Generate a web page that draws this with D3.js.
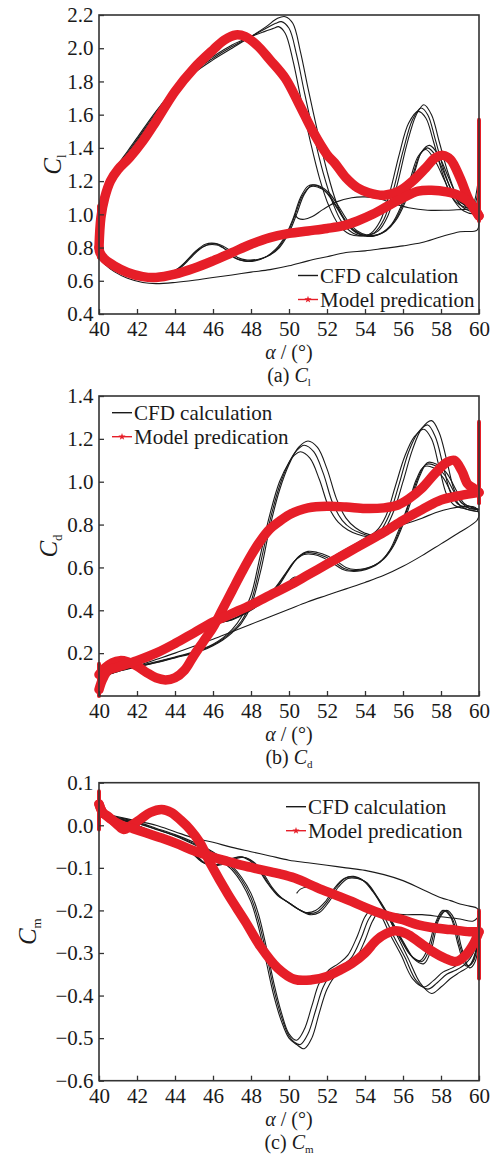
<!DOCTYPE html>
<html>
<head>
<meta charset="utf-8">
<script src="https://cdn.jsdelivr.net/npm/d3@7"></script>
<style>
  body { margin: 0; background: #fff; }
</style>
</head>
<body>
<div id="chart"></div>
<script>
// ---- data: [alpha (deg), coefficient] ----
var alphaTicks = [40, 42, 44, 46, 48, 50, 52, 54, 56, 58, 60];
var clTicks = [0.4, 0.6, 0.8, 1.0, 1.2, 1.4, 1.6, 1.8, 2.0, 2.2];
var cdTicks = [0.2, 0.4, 0.6, 0.8, 1.0, 1.2, 1.4];
var cmTicks = [0.1, 0.0, -0.1, -0.2, -0.3, -0.4, -0.5, -0.6];

// (a) lift coefficient, CFD cycles
var clUp1 = [[40,0.74],[40.15,0.93],[40.4,1.1],[40.8,1.24],[41.5,1.36],[42,1.44],[43,1.6],[44,1.74],[45,1.85],[46,1.93],[47,2.0],[48,2.07],[48.8,2.13],[49.4,2.18],[49.8,2.19],[50.2,2.15],[50.6,1.98],[51,1.76],[51.5,1.5],[52,1.26],[52.5,1.07],[53,0.95],[53.6,0.885],[54.2,0.875],[54.7,0.9],[55.2,0.99],[55.7,1.18],[56.2,1.42],[56.7,1.6],[57.1,1.66],[57.5,1.6],[57.9,1.44],[58.4,1.24],[58.9,1.1],[59.4,1.05],[59.8,1.05],[60,1.15]];
var clUp2 = [[40,0.75],[40.15,0.94],[40.4,1.11],[40.8,1.25],[41.5,1.37],[42,1.45],[43,1.61],[44,1.75],[45,1.86],[46,1.94],[47,2.01],[48,2.07],[48.8,2.12],[49.3,2.15],[49.6,2.16],[50,2.12],[50.4,1.96],[50.8,1.74],[51.3,1.48],[51.8,1.25],[52.3,1.07],[52.8,0.95],[53.4,0.885],[54,0.87],[54.5,0.89],[55,0.97],[55.5,1.15],[56,1.38],[56.5,1.57],[56.95,1.64],[57.3,1.6],[57.7,1.45],[58.2,1.25],[58.7,1.11],[59.2,1.06],[59.7,1.05],[60,1.2]];
var clUp3 = [[40,0.76],[40.15,0.95],[40.4,1.12],[40.8,1.26],[41.5,1.38],[42,1.46],[43,1.62],[44,1.76],[45,1.87],[46,1.95],[47,2.02],[48,2.07],[48.7,2.1],[49.2,2.12],[49.45,2.13],[49.8,2.09],[50.2,1.93],[50.6,1.71],[51.1,1.45],[51.6,1.22],[52.1,1.05],[52.6,0.94],[53.2,0.88],[53.8,0.87],[54.3,0.885],[54.8,0.96],[55.3,1.13],[55.8,1.36],[56.3,1.55],[56.8,1.62],[57.2,1.58],[57.6,1.44],[58.1,1.24],[58.6,1.1],[59.1,1.05],[59.6,1.04],[60,1.25]];
var clDown1 = [[60,1.15],[59.8,1.03],[59.4,1.04],[58.9,1.1],[58.4,1.22],[57.9,1.35],[57.4,1.415],[57.0,1.38],[56.6,1.25],[56.1,1.07],[55.6,0.96],[55.1,0.9],[54.6,0.875],[54.1,0.875],[53.6,0.9],[53.1,0.96],[52.6,1.05],[52.1,1.13],[51.6,1.17],[51.2,1.175],[50.8,1.12],[50.4,1.0],[50.0,0.89],[49.5,0.8],[49.0,0.755],[48.4,0.73],[47.8,0.725],[47.3,0.74],[46.8,0.79],[46.3,0.82],[45.8,0.82],[45.3,0.79],[44.8,0.735],[44.3,0.68],[43.7,0.645],[43,0.635],[42.3,0.64],[41.5,0.655],[40.8,0.68],[40.3,0.71],[40,0.74]];
var clDown2 = [[60,1.2],[59.8,1.02],[59.3,1.03],[58.8,1.09],[58.3,1.21],[57.8,1.34],[57.3,1.4],[56.9,1.36],[56.5,1.23],[56.0,1.06],[55.5,0.95],[55.0,0.895],[54.5,0.87],[54.0,0.87],[53.5,0.9],[53.0,0.96],[52.5,1.05],[52.0,1.13],[51.5,1.165],[51.1,1.165],[50.7,1.11],[50.3,0.99],[49.9,0.88],[49.4,0.795],[48.9,0.75],[48.3,0.725],[47.7,0.72],[47.2,0.735],[46.7,0.785],[46.2,0.815],[45.7,0.815],[45.2,0.785],[44.7,0.73],[44.2,0.675],[43.6,0.64],[43,0.63],[42.3,0.635],[41.5,0.65],[40.8,0.675],[40.3,0.705],[40,0.74]];
var clDown3 = [[60,1.25],[59.8,1.01],[59.2,1.02],[58.7,1.08],[58.2,1.2],[57.7,1.32],[57.2,1.39],[56.8,1.35],[56.4,1.22],[55.9,1.05],[55.4,0.94],[54.9,0.89],[54.4,0.87],[53.9,0.875],[53.4,0.905],[52.9,0.97],[52.4,1.06],[51.9,1.14],[51.4,1.175],[51.0,1.17],[50.6,1.1],[50.2,0.97],[49.8,0.87],[49.3,0.79],[48.8,0.745],[48.2,0.72],[47.6,0.72],[47.1,0.74],[46.6,0.795],[46.1,0.825],[45.6,0.82],[45.1,0.78],[44.6,0.72],[44.1,0.67],[43.5,0.64],[43,0.628],[42.3,0.632],[41.5,0.648],[40.8,0.672],[40.3,0.7],[40,0.74]];
var clFirst = [[50.3,1.0],[50.5,0.975],[50.8,0.97],[51.2,0.985],[51.8,1.03],[52.5,1.075],[53.3,1.1],[54,1.105],[54.7,1.095],[55.5,1.065],[56.3,1.04],[57.3,1.025],[58.3,1.025],[59.3,1.03],[59.85,1.03],[60,0.96],[59.9,0.905],[59,0.895],[58,0.865],[57,0.83],[56,0.81],[55,0.795],[54,0.78],[53,0.77],[52,0.745],[51,0.72],[50,0.69],[49,0.667],[48,0.652],[47,0.635],[46,0.62],[45,0.603],[44,0.59],[43,0.583],[42.3,0.59],[41.5,0.615],[40.8,0.655],[40.3,0.7],[40,0.74]];
// (a) model prediction
var clModelUp = [[40,0.8],[40.1,0.98],[40.3,1.1],[40.6,1.2],[41,1.27],[41.6,1.34],[42.3,1.44],[43,1.56],[44,1.74],[45,1.88],[46,1.99],[46.6,2.05],[47.2,2.08],[47.7,2.07],[48.3,2.02],[49,1.93],[49.8,1.82],[50.5,1.67],[51.3,1.49],[52,1.36],[52.4,1.31],[53,1.22],[53.6,1.16],[54.2,1.13],[55,1.115],[55.8,1.14],[56.5,1.2],[57.2,1.28],[57.7,1.34],[58.1,1.355],[58.5,1.33],[59,1.22],[59.5,1.08],[60,0.99]];
var clModelDown = [[60,0.99],[59.6,1.06],[59,1.11],[58.3,1.135],[57.5,1.145],[56.8,1.14],[56,1.1],[55.2,1.05],[54.4,1.0],[53.6,0.96],[52.8,0.93],[52,0.915],[51,0.9],[50,0.885],[49,0.86],[48,0.82],[47,0.77],[46,0.72],[45,0.675],[44,0.64],[43,0.62],[42.3,0.625],[41.5,0.65],[40.8,0.69],[40.3,0.73],[40.05,0.77],[40,0.8]];
var clModelSpike = [[40,0.74],[40,1.05],[60,0.96],[60,1.57]];

// (b) drag coefficient, CFD cycles
var cdUp1 = [[40,0.07],[40.5,0.1],[41,0.115],[42,0.135],[43,0.155],[44,0.178],[45,0.2],[45.5,0.215],[46,0.235],[46.5,0.26],[47,0.295],[47.5,0.34],[48,0.42],[48.5,0.58],[49,0.79],[49.5,0.96],[50,1.08],[50.5,1.16],[51,1.19],[51.5,1.16],[52,1.06],[52.5,0.92],[53,0.83],[53.5,0.785],[54,0.76],[54.5,0.75],[55,0.775],[55.5,0.86],[56,1.0],[56.5,1.15],[57,1.25],[57.5,1.285],[57.9,1.23],[58.3,1.1],[58.7,0.96],[59.1,0.9],[59.5,0.885],[60,0.87]];
var cdUp2 = [[40,0.075],[40.5,0.1],[41,0.117],[42,0.137],[43,0.157],[44,0.18],[45,0.203],[45.5,0.218],[46,0.238],[46.5,0.265],[47,0.3],[47.5,0.35],[48,0.44],[48.5,0.62],[49,0.82],[49.5,0.98],[50,1.09],[50.4,1.145],[50.8,1.17],[51.3,1.14],[51.8,1.04],[52.3,0.9],[52.8,0.82],[53.3,0.78],[53.8,0.76],[54.3,0.745],[54.8,0.77],[55.3,0.85],[55.8,0.99],[56.3,1.14],[56.8,1.23],[57.3,1.265],[57.7,1.21],[58.1,1.08],[58.5,0.95],[58.9,0.895],[59.4,0.88],[60,0.87]];
var cdUp3 = [[40,0.08],[40.5,0.1],[41,0.12],[42,0.14],[43,0.16],[44,0.182],[45,0.206],[45.5,0.222],[46,0.242],[46.5,0.27],[47,0.31],[47.5,0.37],[48,0.47],[48.5,0.66],[49,0.85],[49.5,1.0],[50,1.09],[50.3,1.125],[50.6,1.14],[51.1,1.11],[51.6,1.01],[52.1,0.88],[52.6,0.81],[53.1,0.775],[53.6,0.755],[54.1,0.745],[54.6,0.77],[55.1,0.84],[55.6,0.98],[56.1,1.12],[56.6,1.21],[57.1,1.245],[57.5,1.2],[57.9,1.07],[58.3,0.94],[58.7,0.89],[59.2,0.875],[60,0.86]];
var cdDown1 = [[60,0.87],[59.6,0.88],[59.2,0.9],[58.8,0.96],[58.3,1.04],[57.8,1.08],[57.3,1.09],[56.9,1.03],[56.5,0.93],[56,0.8],[55.5,0.7],[55,0.64],[54.5,0.61],[54,0.595],[53.5,0.59],[53,0.6],[52.5,0.63],[52,0.655],[51.5,0.67],[51,0.675],[50.5,0.65],[50,0.59],[49.5,0.52],[49,0.47],[48.5,0.43],[48,0.4],[47.5,0.375],[47,0.355],[46.5,0.345],[46,0.34],[45.5,0.33],[45,0.305],[44.5,0.28],[44,0.255],[43,0.21],[42,0.165],[41,0.125],[40.5,0.1],[40,0.07]];
var cdDown2 = [[60,0.87],[59.5,0.875],[59.1,0.9],[58.7,0.95],[58.2,1.03],[57.7,1.075],[57.2,1.08],[56.8,1.02],[56.4,0.92],[55.9,0.79],[55.4,0.69],[54.9,0.635],[54.4,0.605],[53.9,0.59],[53.4,0.585],[52.9,0.595],[52.4,0.625],[51.9,0.65],[51.4,0.665],[50.9,0.668],[50.4,0.64],[49.9,0.58],[49.4,0.515],[48.9,0.465],[48.4,0.428],[47.9,0.398],[47.4,0.373],[46.9,0.354],[46.4,0.344],[45.9,0.338],[45.4,0.328],[44.9,0.302],[44.4,0.277],[43.9,0.252],[43,0.21],[42,0.165],[41,0.125],[40.5,0.1],[40,0.075]];
var cdDown3 = [[60,0.86],[59.4,0.87],[59,0.89],[58.6,0.94],[58.1,1.02],[57.6,1.065],[57.1,1.07],[56.7,1.01],[56.3,0.9],[55.8,0.78],[55.3,0.68],[54.8,0.625],[54.3,0.598],[53.8,0.585],[53.3,0.582],[52.8,0.592],[52.3,0.62],[51.8,0.645],[51.3,0.66],[50.8,0.66],[50.3,0.63],[49.8,0.57],[49.3,0.508],[48.8,0.46],[48.3,0.425],[47.8,0.395],[47.3,0.37],[46.8,0.352],[46.3,0.342],[45.8,0.335],[45.3,0.325],[44.8,0.3],[44.3,0.275],[43.8,0.25],[43,0.21],[42,0.165],[41,0.125],[40.5,0.1],[40,0.08]];
var cdFirst = [[50.05,0.54],[50.3,0.555],[50.6,0.545],[51,0.56],[51.6,0.6],[52.4,0.655],[53.3,0.7],[54.2,0.745],[55,0.775],[56,0.8],[57,0.83],[57.7,0.855],[58.5,0.875],[59.3,0.885],[59.8,0.88],[60,0.85],[59.9,0.82],[59,0.765],[58,0.71],[57,0.655],[56,0.605],[55,0.563],[54,0.53],[53,0.5],[52,0.47],[51,0.44],[50,0.405],[49,0.37],[48,0.335],[47,0.3],[46,0.265],[45,0.232],[44,0.2],[43,0.17],[42,0.14],[41,0.115],[40.5,0.1],[40,0.08]];
// (b) model prediction
var cdModelUp = [[40,0.1],[40.3,0.13],[40.7,0.155],[41.1,0.165],[41.5,0.16],[42,0.14],[42.5,0.11],[43,0.085],[43.5,0.075],[44,0.085],[44.5,0.12],[45,0.19],[45.5,0.255],[46,0.32],[46.5,0.405],[47,0.49],[47.5,0.575],[48,0.655],[48.5,0.725],[49,0.78],[49.5,0.815],[50,0.845],[50.5,0.865],[51,0.878],[52,0.885],[53,0.882],[54,0.875],[55,0.878],[55.7,0.89],[56.3,0.92],[57,0.97],[57.7,1.04],[58.3,1.09],[58.7,1.1],[59.1,1.05],[59.4,0.99],[59.7,0.97],[60,0.95]];
var cdModelDown = [[60,0.95],[59,0.935],[58,0.915],[57,0.87],[56,0.82],[55,0.765],[54,0.715],[53,0.665],[52,0.615],[51,0.565],[50,0.515],[49,0.47],[48,0.425],[47,0.385],[46,0.345],[45,0.295],[44,0.245],[43,0.2],[42,0.165],[41,0.135],[40.5,0.12],[40.2,0.08],[40,0.03]];
var cdModelSpike = [[40,0.0],[40,0.15],[60,0.9],[60,1.28]];

// (c) pitching moment coefficient, CFD cycles
var cmUp1 = [[40,0.02],[41,0.015],[42,0.005],[43,-0.01],[44,-0.025],[45,-0.045],[45.5,-0.055],[46,-0.068],[46.5,-0.085],[47,-0.105],[47.5,-0.135],[48,-0.18],[48.4,-0.24],[48.8,-0.32],[49.2,-0.4],[49.6,-0.46],[50,-0.5],[50.4,-0.515],[50.8,-0.525],[51.2,-0.5],[51.6,-0.44],[52,-0.385],[52.5,-0.35],[53,-0.335],[53.5,-0.315],[54,-0.27],[54.4,-0.225],[54.8,-0.2],[55.2,-0.215],[55.7,-0.26],[56.3,-0.315],[56.9,-0.37],[57.5,-0.395],[58,-0.38],[58.5,-0.36],[59,-0.345],[59.5,-0.33],[59.8,-0.3],[60,-0.24]];
var cmUp2 = [[40,0.022],[41,0.016],[42,0.006],[43,-0.009],[44,-0.024],[45,-0.043],[45.5,-0.053],[46,-0.066],[46.5,-0.082],[47,-0.1],[47.5,-0.128],[48,-0.17],[48.4,-0.225],[48.8,-0.3],[49.2,-0.385],[49.6,-0.45],[50,-0.495],[50.3,-0.51],[50.6,-0.515],[51,-0.49],[51.4,-0.435],[51.8,-0.38],[52.3,-0.345],[52.8,-0.33],[53.3,-0.31],[53.8,-0.265],[54.2,-0.22],[54.6,-0.2],[55,-0.215],[55.5,-0.26],[56.1,-0.31],[56.7,-0.365],[57.3,-0.385],[57.8,-0.37],[58.3,-0.35],[58.8,-0.34],[59.3,-0.325],[59.7,-0.3],[60,-0.25]];
var cmUp3 = [[40,0.025],[41,0.018],[42,0.008],[43,-0.007],[44,-0.022],[45,-0.04],[45.5,-0.05],[46,-0.063],[46.5,-0.078],[47,-0.096],[47.5,-0.122],[48,-0.16],[48.4,-0.21],[48.8,-0.285],[49.2,-0.37],[49.6,-0.44],[50,-0.49],[50.4,-0.505],[50.8,-0.48],[51.2,-0.425],[51.6,-0.37],[52.1,-0.34],[52.6,-0.325],[53.1,-0.305],[53.6,-0.26],[54,-0.215],[54.4,-0.195],[54.8,-0.21],[55.3,-0.255],[55.9,-0.305],[56.5,-0.36],[57.1,-0.38],[57.6,-0.365],[58.1,-0.345],[58.6,-0.335],[59.1,-0.32],[59.6,-0.3],[60,-0.26]];
var cmDown1 = [[60,-0.24],[59.8,-0.32],[59.5,-0.335],[59.1,-0.29],[58.7,-0.22],[58.3,-0.2],[57.9,-0.22],[57.5,-0.29],[57.1,-0.325],[56.6,-0.315],[56.1,-0.28],[55.6,-0.24],[55.1,-0.2],[54.6,-0.165],[54.1,-0.135],[53.6,-0.125],[53.1,-0.125],[52.6,-0.145],[52.1,-0.18],[51.6,-0.205],[51.1,-0.21],[50.6,-0.2],[50.1,-0.185],[49.6,-0.17],[49.1,-0.145],[48.6,-0.11],[48.1,-0.085],[47.6,-0.075],[47.1,-0.08],[46.6,-0.09],[46.1,-0.095],[45.6,-0.09],[45.1,-0.07],[44.6,-0.055],[44,-0.04],[43,-0.02],[42,0.0],[41,0.015],[40,0.025]];
var cmDown2 = [[60,-0.25],[59.7,-0.32],[59.4,-0.33],[59.0,-0.285],[58.6,-0.22],[58.2,-0.2],[57.8,-0.225],[57.4,-0.29],[57.0,-0.32],[56.5,-0.31],[56.0,-0.275],[55.5,-0.235],[55.0,-0.195],[54.5,-0.16],[54.0,-0.132],[53.5,-0.122],[53.0,-0.124],[52.5,-0.145],[52.0,-0.18],[51.5,-0.203],[51.0,-0.207],[50.5,-0.197],[50.0,-0.182],[49.5,-0.167],[49.0,-0.142],[48.5,-0.108],[48.0,-0.083],[47.5,-0.074],[47.0,-0.079],[46.5,-0.089],[46.0,-0.094],[45.5,-0.088],[45.0,-0.068],[44.5,-0.053],[44,-0.04],[43,-0.02],[42,0.0],[41,0.015],[40,0.022]];
var cmDown3 = [[60,-0.26],[59.6,-0.325],[59.3,-0.33],[58.9,-0.28],[58.5,-0.215],[58.1,-0.2],[57.7,-0.23],[57.3,-0.29],[56.9,-0.318],[56.4,-0.305],[55.9,-0.27],[55.4,-0.23],[54.9,-0.19],[54.4,-0.155],[53.9,-0.13],[53.4,-0.12],[52.9,-0.125],[52.4,-0.147],[51.9,-0.18],[51.4,-0.2],[50.9,-0.205],[50.4,-0.195],[49.9,-0.18],[49.4,-0.165],[48.9,-0.138],[48.4,-0.105],[47.9,-0.082],[47.4,-0.074],[46.9,-0.08],[46.4,-0.09],[45.9,-0.093],[45.4,-0.086],[44.9,-0.066],[44.4,-0.05],[44,-0.04],[43,-0.02],[42,0.0],[41,0.016],[40,0.02]];
var cmFirst = [[50.4,-0.16],[50.6,-0.15],[51,-0.145],[51.6,-0.15],[52.3,-0.165],[53,-0.18],[54,-0.195],[55,-0.205],[56,-0.21],[57,-0.21],[58,-0.215],[59,-0.22],[59.7,-0.225],[60,-0.21],[59.9,-0.195],[59.5,-0.19],[59,-0.185],[58.5,-0.177],[58,-0.17],[57,-0.15],[56,-0.13],[55,-0.116],[54,-0.106],[53,-0.1],[52,-0.094],[51,-0.088],[50,-0.082],[49,-0.072],[48,-0.062],[47,-0.052],[46,-0.04],[45,-0.03],[44,-0.015],[43,0.0],[42,0.01],[41,0.02],[40,0.03]];
// (c) model prediction
var cmModelUp = [[40,0.05],[40.2,0.03],[40.5,0.02],[41,0.0],[41.3,-0.01],[41.7,0.0],[42.2,0.015],[42.7,0.03],[43.3,0.037],[43.8,0.03],[44.3,0.012],[44.8,-0.01],[45.3,-0.04],[45.9,-0.093],[46.8,-0.163],[47.7,-0.226],[48.5,-0.285],[49.4,-0.335],[50.3,-0.362],[51.2,-0.363],[52,-0.355],[52.7,-0.34],[53.3,-0.325],[54,-0.3],[54.6,-0.27],[55.1,-0.255],[55.6,-0.248],[56.2,-0.255],[56.8,-0.273],[57.5,-0.295],[58.2,-0.312],[58.8,-0.32],[59.3,-0.305],[59.7,-0.28],[60,-0.25]];
var cmModelDown = [[60,-0.25],[59.5,-0.25],[58.5,-0.245],[57.5,-0.24],[56.8,-0.234],[56,-0.222],[55,-0.21],[54,-0.193],[53.3,-0.179],[52.4,-0.163],[51.5,-0.147],[50.3,-0.124],[49.4,-0.113],[48.5,-0.104],[47.6,-0.095],[46.8,-0.085],[46,-0.075],[45,-0.06],[44.2,-0.045],[43.3,-0.03],[42.5,-0.018],[41.8,-0.008],[41.2,0.0],[40.6,0.015],[40.2,0.03],[40,0.05]];
var cmModelSpike = [[40,-0.01],[40,0.08],[60,-0.2],[60,-0.36]];

// ---- drawing ----
var FONT = "'Liberation Serif', 'Times New Roman', serif";
var RED = "#e61e28";

var svg = d3.select("#chart")
            .append("svg")
            .attr("width", 493)
            .attr("height", 1156)
            .style("background-color", "#fff");

var x = d3.scaleLinear().domain([40, 60]).range([99, 479]);

var panels = [
  { top: 15, bottom: 314, domain: [0.4, 2.2], ticks: clTicks, fmt: ".1f",
    cfd: [clFirst, clUp1, clUp2, clUp3, clDown1, clDown2, clDown3],
    model: [clModelUp, clModelDown], spike: clModelSpike,
    sub: "l", letter: "(a) ", yLabX: 61, legX: 298, legY: 275.5 },
  { top: 396, bottom: 696, domain: [0, 1.4], ticks: cdTicks, fmt: ".1f",
    cfd: [cdFirst, cdUp1, cdUp2, cdUp3, cdDown1, cdDown2, cdDown3],
    model: [cdModelUp, cdModelDown], spike: cdModelSpike,
    sub: "d", letter: "(b) ", yLabX: 57, legX: 112, legY: 412.7 },
  { top: 782.7, bottom: 1080.7, domain: [-0.6, 0.1], ticks: cmTicks, fmt: ".1f",
    cfd: [cmFirst, cmUp1, cmUp2, cmUp3, cmDown1, cmDown2, cmDown3],
    model: [cmModelUp, cmModelDown], spike: cmModelSpike,
    sub: "m", letter: "(c) ", yLabX: 36, legX: 286, legY: 806.7 }
];

panels.forEach(drawPanel);

function drawPanel(p) {
  var y = d3.scaleLinear().domain(p.domain).range([p.bottom, p.top]);
  var g = svg.append("g");

  var line = d3.line()
               .x(d => x(d[0]))
               .y(d => y(d[1]))
               .curve(d3.curveCatmullRom.alpha(0.5));

  p.cfd.forEach(function (s) {
    g.append("path")
     .datum(s)
     .attr("fill", "none")
     .attr("stroke", "#1a1a1a")
     .attr("stroke-width", 1.1)
     .attr("d", line);
  });

  p.model.forEach(function (s) {
    g.append("path")
     .datum(s)
     .attr("fill", "none")
     .attr("stroke", RED)
     .attr("stroke-width", 9.5)
     .attr("stroke-linecap", "round")
     .attr("stroke-linejoin", "round")
     .attr("d", line);
  });

  // vertical turn-around bands at the stroke ends
  for (var i = 0; i < p.spike.length; i += 2) {
    g.append("line")
     .attr("x1", x(p.spike[i][0])).attr("y1", y(p.spike[i][1]))
     .attr("x2", x(p.spike[i + 1][0])).attr("y2", y(p.spike[i + 1][1]))
     .attr("stroke", RED)
     .attr("stroke-width", 4)
     .attr("stroke-linecap", "round");
  }

  // frame
  g.append("rect")
   .attr("x", 99).attr("y", p.top)
   .attr("width", 380).attr("height", p.bottom - p.top)
   .attr("fill", "none")
   .attr("stroke", "#333")
   .attr("stroke-width", 1.6);

  var xAxis = g.append("g")
               .attr("transform", `translate(0, ${p.bottom})`)
               .call(d3.axisBottom(x).tickValues(alphaTicks).tickFormat(d3.format("d"))
                       .tickSize(-5).tickPadding(7));
  var yAxis = g.append("g")
               .attr("transform", "translate(99, 0)")
               .call(d3.axisLeft(y).tickValues(p.ticks).tickFormat(d3.format(p.fmt))
                       .tickSize(-5).tickPadding(5.5));

  [xAxis, yAxis].forEach(function (a) {
    a.select(".domain").remove();
    a.attr("font-family", FONT).attr("font-size", 21);
    a.selectAll(".tick line").attr("stroke", "#333").attr("stroke-width", 1.3);
    a.selectAll(".tick text").attr("fill", "#1a1a1a");
  });

  // y axis title
  var yt = g.append("text")
            .attr("transform", `translate(${p.yLabX}, ${(p.top + p.bottom) / 2}) rotate(-90)`)
            .attr("text-anchor", "middle")
            .attr("font-family", FONT)
            .attr("font-size", 25)
            .attr("fill", "#1a1a1a");
  yt.append("tspan").attr("font-style", "italic").text("C");
  yt.append("tspan").attr("font-size", 13).attr("dy", 5).text(p.sub);

  // x axis title
  var xt = g.append("text")
            .attr("x", 289).attr("y", p.bottom + 45)
            .attr("text-anchor", "middle")
            .attr("font-family", FONT)
            .attr("font-size", 20)
            .attr("fill", "#1a1a1a");
  xt.append("tspan").attr("font-style", "italic").text("α");
  xt.append("tspan").text(" / (°)");

  // caption
  var ct = g.append("text")
            .attr("x", 289).attr("y", p.bottom + 68)
            .attr("text-anchor", "middle")
            .attr("font-family", FONT)
            .attr("font-size", 20)
            .attr("fill", "#1a1a1a");
  ct.append("tspan").text(p.letter);
  ct.append("tspan").attr("font-style", "italic").text("C");
  ct.append("tspan").attr("font-size", 11).attr("dy", 4).text(p.sub);

  // legend
  var lg = g.append("g").attr("font-family", FONT).attr("font-size", 21).attr("fill", "#1a1a1a");
  lg.append("line")
    .attr("x1", p.legX).attr("x2", p.legX + 20)
    .attr("y1", p.legY).attr("y2", p.legY)
    .attr("stroke", "#1a1a1a").attr("stroke-width", 1.4);
  lg.append("text").attr("x", p.legX + 22).attr("y", p.legY + 7.5).text("CFD calculation");
  lg.append("line")
    .attr("x1", p.legX).attr("x2", p.legX + 20)
    .attr("y1", p.legY + 24).attr("y2", p.legY + 24)
    .attr("stroke", RED).attr("stroke-width", 1.4);
  lg.append("path")
    .attr("transform", `translate(${p.legX + 10}, ${p.legY + 24})`)
    .attr("d", d3.symbol().type(d3.symbolStar).size(16))
    .attr("fill", RED);
  lg.append("text").attr("x", p.legX + 22).attr("y", p.legY + 31.5).text("Model predication");
}
</script>
</body>
</html>
